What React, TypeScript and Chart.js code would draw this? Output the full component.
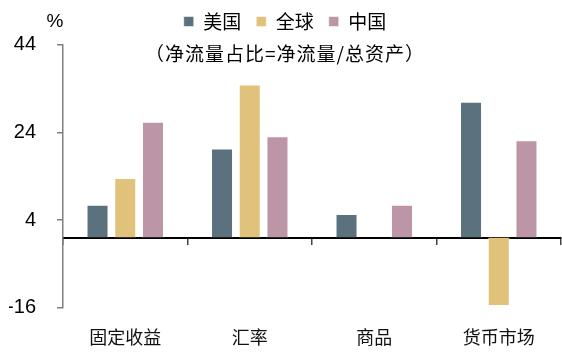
import React, { useEffect, useRef } from 'react';
import { Chart, registerables } from 'chart.js';

Chart.register(...registerables);

const categories = ['固定收益', '汇率', '商品', '货币市场'];
const seriesNames = ['美国', '全球', '中国'];
const usValues = [7.5, 20.3, 5.4, 31.0];
const globalValues: (number | null)[] = [13.6, 34.9, null, -15.6];
const chinaValues = [26.4, 23.1, 7.5, 22.2];
const yTicks = [-16, 4, 24, 44];
const unitLabel = '%';
const subtitleText = '（净流量占比=净流量/总资产）';

const seriesColors = ['#5B717E', '#E0C27A', '#BC95A6'];

const CJK = '"Noto Sans CJK SC", "Noto Sans", sans-serif';
const LATIN = '"Liberation Sans", Arial, sans-serif';

const headerPlugin = {
  id: 'headerText',
  afterDraw(chart: any) {
    const ctx = chart.ctx;
    ctx.save();
    ctx.fillStyle = '#000';
    ctx.textBaseline = 'middle';
    ctx.textAlign = 'center';
    ctx.font = `19px ${LATIN}`;
    ctx.fillText(unitLabel, 55, 22);
    ctx.font = `19px ${CJK}`;
    try {
      (ctx as any).letterSpacing = '1px';
    } catch (e) {
      /* ignore */
    }
    const lg = chart.legend;
    const cx = lg ? (lg.left + lg.right) / 2 : 285;
    ctx.fillText(subtitleText, cx, 54);
    ctx.restore();
  },
};

export default function App() {
  const ref = useRef<HTMLCanvasElement>(null);
  useEffect(() => {
    document.body.style.margin = '0';
    const canvas = ref.current!;
    const values = [usValues, globalValues, chinaValues];
    const chart = new Chart(canvas, {
      type: 'bar',
      data: {
        labels: categories,
        datasets: seriesNames.map((name, i) => ({
          label: name,
          data: values[i],
          backgroundColor: seriesColors[i],
          borderColor: 'rgba(255,255,255,0.55)',
          borderWidth: 1,
          categoryPercentage: 0.668,
          barPercentage: 0.794,
        })),
      },
      options: {
        responsive: false,
        animation: false,
        events: [],
        layout: { padding: { left: 9, right: 1, top: -3, bottom: 0 } },
        plugins: {
          legend: {
            display: true,
            position: 'top',
            align: 'center',
            labels: {
              boxWidth: 10,
              boxHeight: 10,
              padding: 15,
              color: '#000',
              font: { family: CJK, size: 19 },
            },
          },
          title: {
            display: true,
            text: '',
            position: 'top',
            weight: 500,
            font: { size: 1, lineHeight: 1 },
            padding: { top: 0, bottom: 2.7 },
          } as any,
          tooltip: { enabled: false },
        },
        scales: {
          x: {
            type: 'category',
            position: 'bottom',
            offset: true,
            grid: { display: false, drawTicks: false, offset: true },
            border: { display: false },
            ticks: {
              color: '#111',
              padding: 19,
              font: { family: CJK, size: 18 },
              maxRotation: 0,
              autoSkip: false,
            },
            afterFit: (scale: any) => {
              scale.height = 49.3;
            },
          } as any,
          zero: {
            type: 'category',
            axis: 'x',
            labels: categories,
            position: { y: 0 } as any,
            offset: true,
            grid: {
              display: true,
              offset: true,
              drawOnChartArea: false,
              drawTicks: true,
              tickLength: 6,
              color: '#444',
              lineWidth: 1.5,
            },
            border: { display: true, color: '#000', width: 2 },
            ticks: { display: false },
            afterFit: (scale: any) => {
              scale.height = 0;
            },
          } as any,
          y: {
            type: 'linear',
            min: yTicks[0],
            max: yTicks[yTicks.length - 1],
            afterBuildTicks: (scale: any) => {
              scale.ticks = yTicks.map((v) => ({ value: v }));
            },
            afterFit: (scale: any) => {
              scale.width = 54;
            },
            grid: {
              display: true,
              drawOnChartArea: false,
              drawTicks: true,
              tickLength: 6,
              color: '#7f7f7f',
              lineWidth: 1.5,
            },
            border: { display: true, color: '#7f7f7f', width: 1.5 },
            ticks: {
              color: '#000',
              padding: 21,
              font: { family: LATIN, size: 20 },
            },
          },
        },
      },
      plugins: [headerPlugin],
    });
    return () => chart.destroy();
  }, []);
  return (
    <div style={{ position: 'fixed', left: 0, top: 0, width: 562, height: 357, background: '#fff' }}>
      <canvas ref={ref} width={562} height={357} style={{ display: 'block' }} />
    </div>
  );
}
